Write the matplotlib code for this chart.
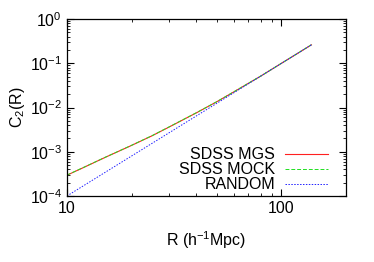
import numpy as np
import matplotlib
matplotlib.use("Agg")
import matplotlib.pyplot as plt
from matplotlib.ticker import LogLocator, NullFormatter, FuncFormatter

plt.rcParams['font.family'] = ['Liberation Sans', 'DejaVu Sans']
plt.rcParams['mathtext.fontset'] = 'custom'
plt.rcParams['mathtext.rm'] = 'Liberation Sans'
plt.rcParams['mathtext.it'] = 'Liberation Sans:italic'
plt.rcParams['axes.unicode_minus'] = False

# values
R = [10, 12, 15, 20, 25, 30, 40, 50, 60, 70, 80, 100, 120, 138]
c2_mgs = [2.95e-4, 4.44e-4, 7.38e-4, 1.39e-3, 2.31e-3, 3.64e-3, 7.52e-3,
          1.355e-2, 2.26e-2, 3.51e-2, 5.12e-2, 0.1, 0.172, 0.262]
c2_mock = [2.97e-4, 4.47e-4, 7.42e-4, 1.40e-3, 2.33e-3, 3.67e-3, 7.58e-3,
           1.36e-2, 2.27e-2, 3.52e-2, 5.13e-2, 0.1, 0.1725, 0.263]
c2_random = [1.0e-4, 1.728e-4, 3.375e-4, 8.0e-4, 1.5625e-3, 2.7e-3, 6.4e-3,
             1.25e-2, 2.16e-2, 3.43e-2, 5.12e-2, 0.1, 0.1728, 0.263]

fig = plt.figure(figsize=(3.74, 2.62), dpi=100)
ax = fig.add_axes([0.179, 0.252, 0.746, 0.675])

ax.plot(R, c2_mgs, color='#ff2020', lw=0.8, label='SDSS MGS')
ax.plot(R, c2_mock, color='#20e020', lw=0.7, dashes=(4, 2), label='SDSS MOCK')
ax.plot(R, c2_random, color='#2020ff', lw=0.7, dashes=(1.5, 1.5), label='RANDOM')

ax.set_xscale('log')
ax.set_yscale('log')
ax.set_xlim(10, 200)
ax.set_ylim(1e-4, 1)

ax.xaxis.set_major_locator(LogLocator(base=10))
ax.xaxis.set_major_formatter(FuncFormatter(lambda v, p: '%g' % v))
ax.xaxis.set_minor_locator(LogLocator(base=10, subs=np.arange(2, 10)))
ax.xaxis.set_minor_formatter(NullFormatter())
ax.yaxis.set_minor_locator(LogLocator(base=10, subs=np.arange(2, 10), numticks=20))
ax.yaxis.set_minor_formatter(NullFormatter())

ax.tick_params(which='both', direction='in', top=True, right=True, labelsize=11.5)
ax.tick_params(which='major', length=5, width=0.8)
ax.tick_params(which='minor', length=2.5, width=0.6)
for s in ax.spines.values():
    s.set_linewidth(0.9)

ax.set_xlabel('R (h$^{-1}$Mpc)', fontsize=11.5, labelpad=10)
ax.set_ylabel('C$_2$(R)', fontsize=11.5, labelpad=2)

ax.legend(loc='lower right', frameon=False, markerfirst=False, fontsize=11.5,
          handlelength=2.7, handletextpad=0.6, labelspacing=0.0,
          borderaxespad=0.0, borderpad=0.0, bbox_to_anchor=(0.935, 0.02))

fig.savefig('out.png', dpi=100)
